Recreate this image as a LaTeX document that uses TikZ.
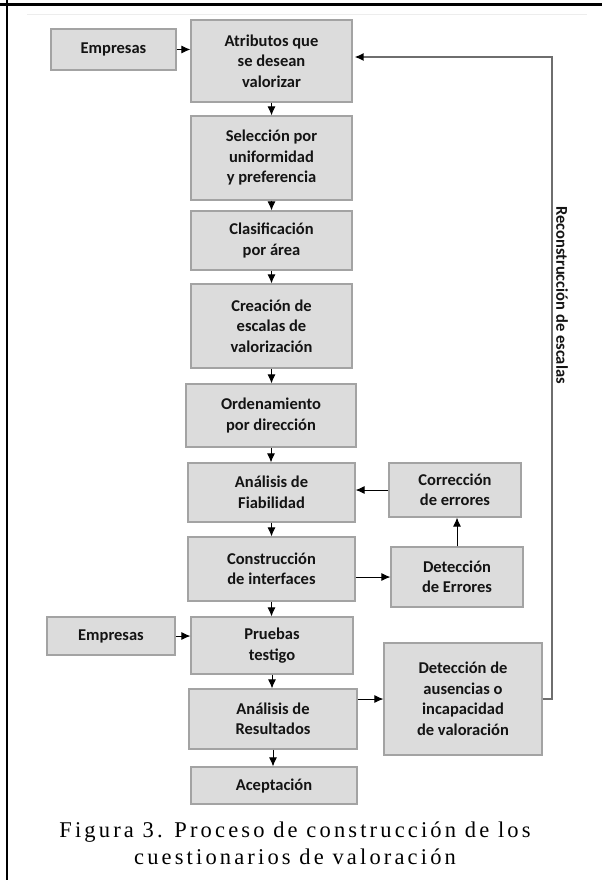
\documentclass[tikz,border=0pt]{standalone}
\usepackage{fontspec}
\setmainfont{Carlito}
\newfontfamily\capfont[LetterSpace=14]{Liberation Serif}
\usetikzlibrary{arrows.meta,calc}
\definecolor{boxfill}{HTML}{DCDCDC}
\definecolor{boxline}{HTML}{A3A3A3}
\definecolor{txt}{HTML}{141414}
\definecolor{fbline}{HTML}{6E6E6E}
\begin{document}
\begin{tikzpicture}[x=1pt,y=-1pt,
  box/.style={draw=boxline, line width=1.2pt, fill=boxfill, inner sep=0pt, align=center,
              font=\bfseries\fontsize{16.5}{20.5}\selectfont, text=txt},
  arr/.style={-{Latex[length=9pt,width=8pt]}, line width=0.9pt, black},
  fb/.style={-{Latex[length=9pt,width=8pt,color=black]}, line width=1.4pt, fbline},
  lbl/.style={font=\bfseries\fontsize{16.5}{16.5}\selectfont, text=txt},
  captxt/.style={font=\capfont\fontsize{22.5}{27}\selectfont, align=center, text=black}]
\useasboundingbox (0,0) rectangle (602,880);
\fill[white] (0,0) rectangle (602,880);
% frame
\draw[line width=2.5pt] (0,4.5) -- (602,4.5);
\draw[line width=2pt] (6.5,0) -- (6.5,880);
\draw[black!7, line width=1pt] (27,15) -- (587,15);
% boxes
\node[box, minimum width=125pt, minimum height=41pt] (emp1) at (113.5,49.5) {Empresas};
\node[box, minimum width=161pt, minimum height=82pt] (atr) at (271.5,61) {Atributos que\\se desean\\valorizar};
\node[box, minimum width=161pt, minimum height=84pt] (sel) at (271.5,158) {Selección por\\uniformidad\\y preferencia};
\node[box, minimum width=161pt, minimum height=59pt] (cla) at (271.5,240.5) {Clasificación\\por área};
\node[box, minimum width=161pt, minimum height=84pt] (cre) at (271.5,326) {Creación de\\escalas de\\valorización};
\node[box, minimum width=170pt, minimum height=63pt] (ord) at (271,415.5) {Ordenamiento\\por dirección};
\node[box, minimum width=167pt, minimum height=59pt] (fia) at (271.5,492.5) {Análisis de\\Fiabilidad};
\node[box, minimum width=132pt, minimum height=54pt] (cor) at (455,490) {Corrección\\de errores};
\node[box, minimum width=167pt, minimum height=64pt] (con) at (271.5,569) {Construcción\\de interfaces};
\node[box, minimum width=132pt, minimum height=60pt] (det) at (457,577) {Detección\\de Errores};
\node[box, minimum width=128pt, minimum height=38pt] (emp2) at (111,636) {Empresas};
\node[box, minimum width=162pt, minimum height=57pt] (pru) at (272,645.5) {Pruebas\\testigo};
\node[box, minimum width=168pt, minimum height=60pt] (res) at (273,719) {Análisis de\\Resultados};
\node[box, minimum width=158pt, minimum height=112pt] (aus) at (463,699) {Detección de\\ausencias o\\incapacidad\\de valoración};
\node[box, minimum width=166pt, minimum height=37pt] (ace) at (274,785.5) {Aceptación};
% feedback label
\node[lbl, rotate=-90] (rec) at (562,295) {Reconstrucción de escalas};
\coordinate (fbt) at (552,57);
% connectors
\draw[arr] (emp1.east) -- (emp1.east -| atr.west);
\draw[arr] (atr.south) -- (atr.south |- sel.north);
\draw[arr] (sel.south) -- (sel.south |- cla.north);
\draw[arr] (cla.south) -- (cla.south |- cre.north);
\draw[arr] (cre.south) -- (cre.south |- ord.north);
\draw[arr] (ord.south) -- (ord.south |- fia.north);
\draw[arr] (cor.west) -- (cor.west -| fia.east);
\draw[arr] (fia.south) -- (fia.south |- con.north);
\draw[arr] (det.west -| con.east) -- (det.west);
\draw[arr] (det.north) -- (det.north |- cor.south);
\draw[arr] (con.south) -- (con.south |- pru.north);
\draw[arr] (emp2.east) -- (emp2.east -| pru.west);
\draw[arr] (pru.south) -- (pru.south |- res.north);
\draw[arr] (aus.west -| res.east) -- (aus.west);
\draw[arr] (res.south) -- (res.south |- ace.north);
\draw[fb] (aus.east) -| (fbt) -- ([xshift=2pt]fbt -| atr.east);
% caption
\node[captxt] (cap) at (295,843.5) {Figura 3. Proceso de construcción de los\\cuestionarios de valoración};
\end{tikzpicture}
\end{document}
